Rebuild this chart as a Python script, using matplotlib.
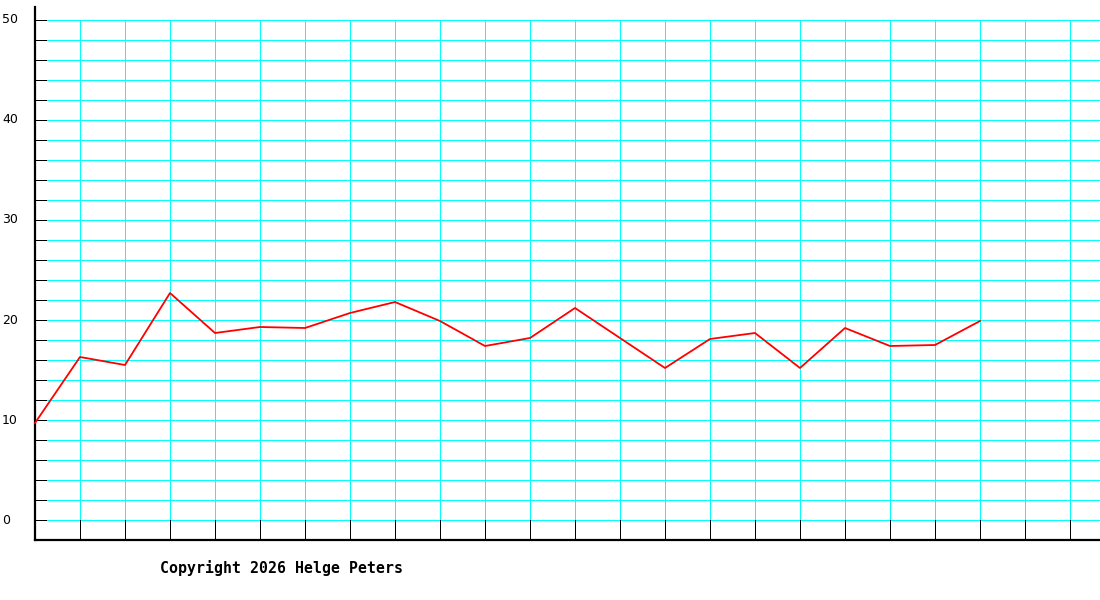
import matplotlib
matplotlib.use("Agg")
import matplotlib.pyplot as plt
import matplotlib.transforms as mtransforms
import numpy as np

# Data
x_index = list(range(22))
values = [9.7, 16.3, 15.5, 22.7, 18.7, 19.3, 19.2, 20.7, 21.8, 19.9, 17.4,
          18.2, 21.2, 18.2, 15.2, 18.1, 18.7, 15.2, 19.2, 17.4, 17.5, 19.9]
y_tick_labels = [0, 10, 20, 30, 40, 50]
y_grid = list(range(0, 51, 2))
x_grid = list(range(1, 24))
copyright_text = "Copyright 2026 Helge Peters"

W, H = 1100, 600
fig = plt.figure(figsize=(W / 100, H / 100), dpi=100)
fig.patch.set_facecolor("white")

x0, x1 = 35, 1100
y_bot, y_top = 540, 7
ax = fig.add_axes([x0 / W, (H - y_bot) / H, (x1 - x0) / W, (y_bot - y_top) / H])
px = 45.0  # pixels per x unit
py = 10.0  # pixels per y unit
ax.set_xlim(0, (x1 - x0) / px)
ax.set_ylim(-2, -2 + (y_bot - y_top) / py)
ax.set_facecolor("white")

tick_len = 11 / px
lw1 = 0.7
cyan = "#00ffff"

# horizontal grid + left ticks
ax.hlines(y_grid, tick_len, (x1 - x0) / px, colors=cyan, linewidth=lw1, zorder=1,
          antialiased=False)
ax.hlines(y_grid, 0, tick_len, colors="black", linewidth=lw1, zorder=2,
          antialiased=False)
# vertical grid + bottom ticks
ax.vlines(x_grid, 0, 50, colors=cyan, linewidth=lw1, zorder=1, antialiased=False)
ax.vlines(x_grid, -2, 0, colors="black", linewidth=lw1, zorder=2, antialiased=False)

# data line
ax.plot(x_index, values, color="#ff0000", linewidth=1.3, zorder=3, clip_on=False)

for s in ["top", "right"]:
    ax.spines[s].set_visible(False)
for s in ["left", "bottom"]:
    ax.spines[s].set_linewidth(1.6)
    ax.spines[s].set_color("black")
ax.set_xticks([])
ax.set_yticks([])

trans = mtransforms.blended_transform_factory(fig.transFigure, ax.transData)
for v in y_tick_labels:
    fig.text(2 / W, v, str(v), transform=trans, ha="left", va="center",
             fontsize=9, family="DejaVu Sans", color="black")

fig.text(160 / W, 1 - 568 / H, copyright_text, ha="left", va="center",
         fontsize=10.7, family="DejaVu Sans Mono", weight="bold", color="black")

fig.savefig("out.png", dpi=100)
